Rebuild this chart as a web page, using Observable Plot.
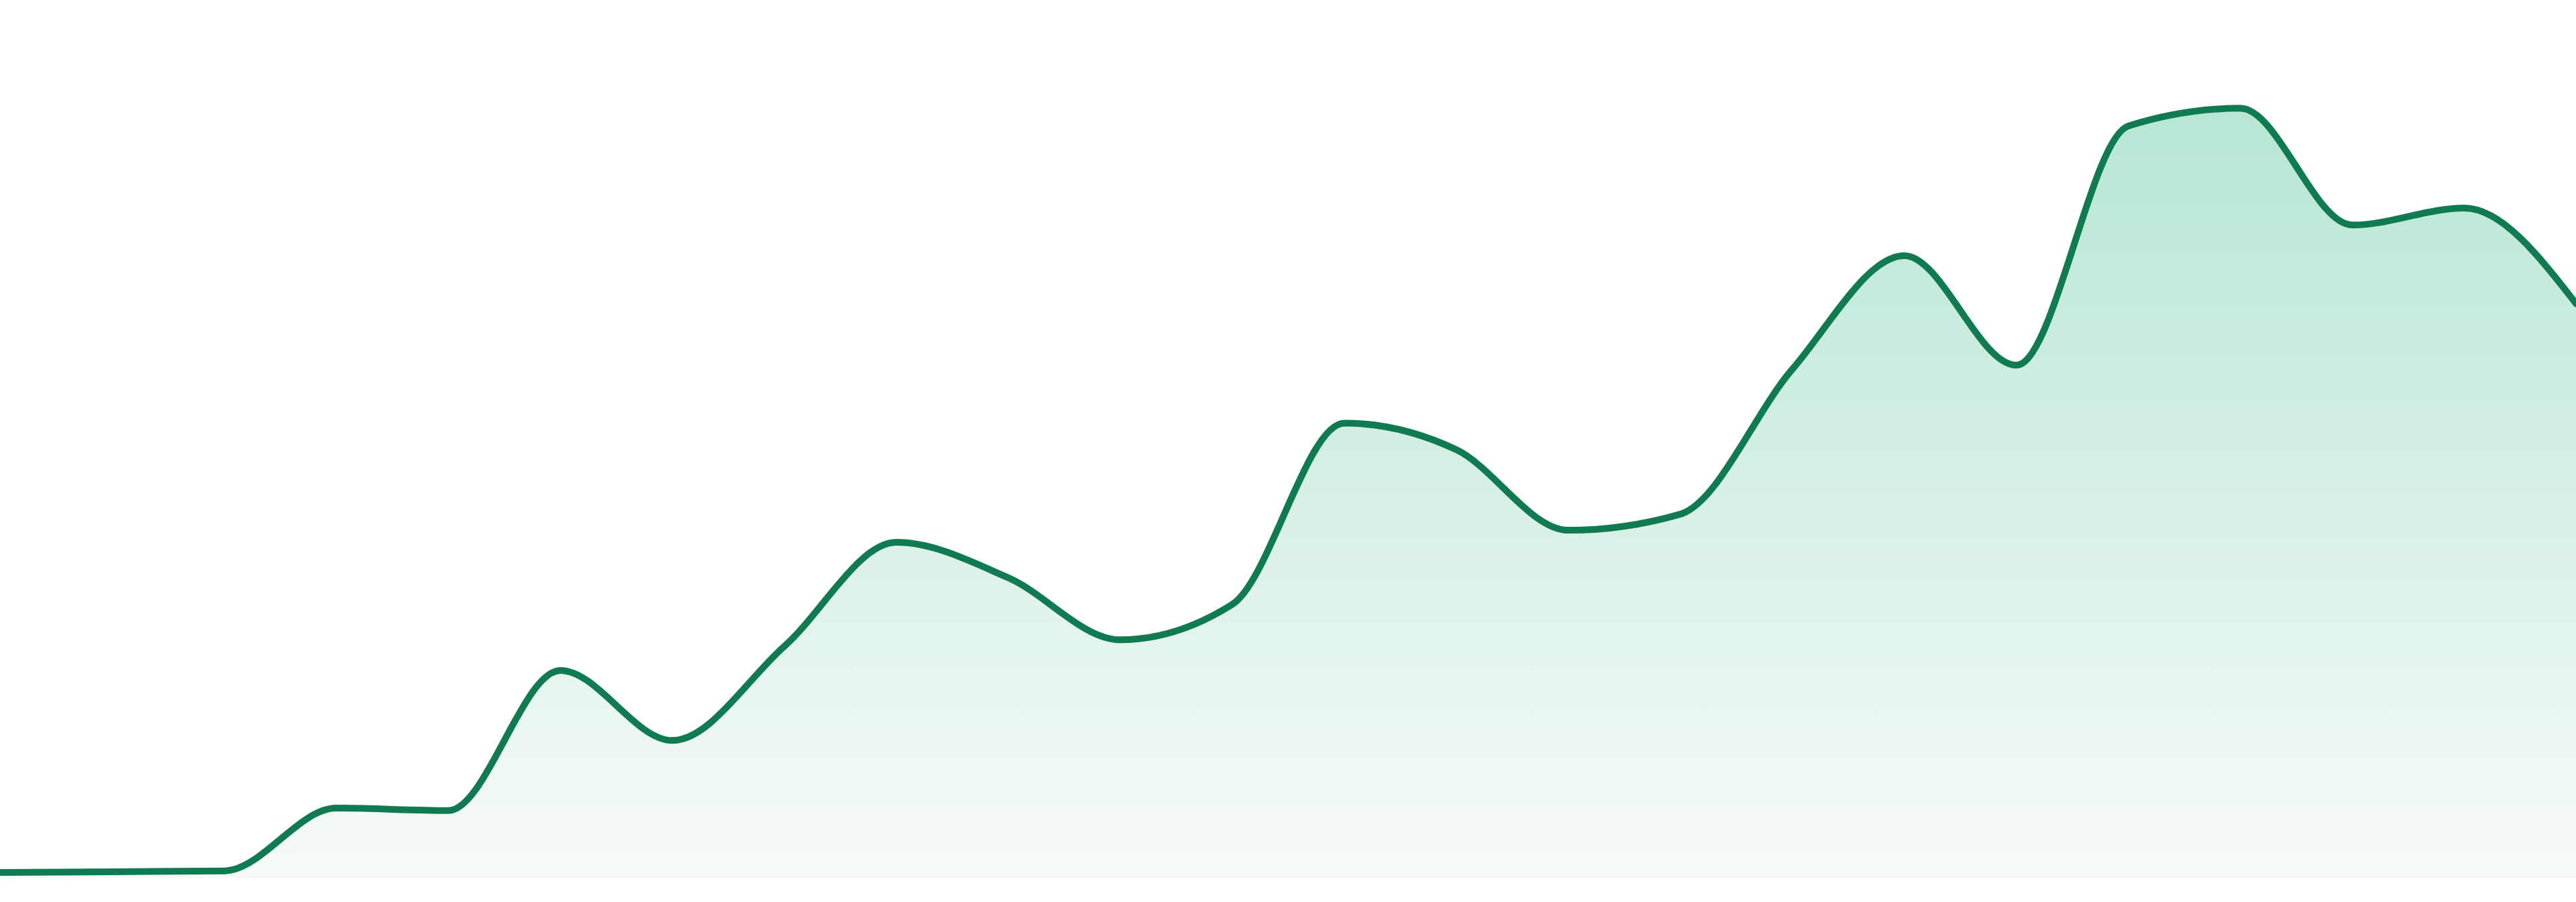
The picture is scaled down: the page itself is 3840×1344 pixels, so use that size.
<!DOCTYPE html>
<html>
<head>
<meta charset="utf-8">
<script src="https://cdn.jsdelivr.net/npm/d3@7"></script>
<script src="https://cdn.jsdelivr.net/npm/@observablehq/plot@0.6"></script>
<style>
  html, body { margin: 0; padding: 0; background: #ffffff; }
  #chart { width: 3840px; height: 1344px; overflow: hidden; }
  #chart svg { display: block; }
</style>
</head>
<body>
<div id="chart"></div>
<script>
// Data (24 evenly spaced periods)
const periods = [0, 1, 2, 3, 4, 5, 6, 7, 8, 9, 10, 11, 12, 13, 14, 15, 16, 17, 18, 19, 20, 21, 22, 23];
const values = [0.7, 0.8, 0.9, 8.7, 8.4, 25.8, 17.1, 28.8, 41.7, 37.3, 29.6, 34.0,
                56.5, 53.2, 43.2, 45.2, 63.2, 77.3, 63.7, 93.4, 95.6, 81.1, 83.2, 71.3];

const lineColor = "#107b51";
const gradTop = "#b6e6d4";
const gradBottom = "#f7faf9";

const data = periods.map((p, i) => ({period: p, value: values[i]}));

const chart = Plot.plot({
  width: 3840,
  height: 1344,
  marginTop: 108,
  marginBottom: 36,
  marginLeft: 0,
  marginRight: 0,
  style: {background: "#ffffff", overflow: "visible"},
  x: {domain: [0, 23], axis: null},
  y: {domain: [0, 100], axis: null},
  marks: [
    Plot.areaY(data, {x: "period", y: "value", curve: "monotone-x", fill: "url(#areaGrad)"}),
    Plot.lineY(data, {x: "period", y: "value", curve: "monotone-x", stroke: lineColor, strokeWidth: 10,
                      strokeLinejoin: "round", strokeLinecap: "round"})
  ]
});

const defs = d3.select(chart).insert("defs", ":first-child");
const grad = defs.append("linearGradient")
  .attr("id", "areaGrad")
  .attr("x1", 0).attr("y1", 0).attr("x2", 0).attr("y2", 1);
grad.append("stop").attr("offset", "0%").attr("stop-color", gradTop);
grad.append("stop").attr("offset", "100%").attr("stop-color", gradBottom);

document.getElementById("chart").appendChild(chart);
</script>
</body>
</html>
